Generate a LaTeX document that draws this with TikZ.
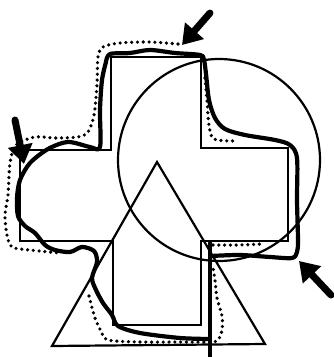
\documentclass[tikz,border=0pt]{standalone}
\usetikzlibrary{arrows.meta}
\begin{document}
\begin{tikzpicture}[x=1pt,y=-1pt,
  thinline/.style={line width=2.6pt, line join=miter},
  figline/.style={line width=2.2pt},
  trace/.style={line width=4.2pt, line cap=round, line join=round},
  dots/.style={line width=3.6pt, line cap=round, dash pattern=on 0pt off 5.8pt},
  bigarrow/.style={line width=7pt, line cap=round, -{Triangle[length=19pt,width=24pt]}}]
\useasboundingbox (0,0) rectangle (334,357);
% cross
\draw[thinline] (111,57) -- (201,57) -- (201,148) -- (288,148) -- (288,241) -- (201,241)
  -- (201,325) -- (113,325) -- (113,241) -- (20,241) -- (20,150) -- (111,150) -- cycle;
% circle
\draw[figline] (219,160) circle[radius=101pt];
% triangle
\draw[figline] (157,162) -- (52,346) -- (265,344) -- cycle;
% thick traced outline
\draw[trace] plot[smooth, tension=0.5] coordinates {
  (106,62) (110,54) (130,53) (150,50) (175,53) (200,55) (204,60)
  (206,74) (209,100) (215,118) (225,129) (245,135) (275,140) (290,145)
  (297,158) (297,200) (298,240) (297,252) (292,258) (270,257) (240,255) (211,256)};
\draw[trace] (210,243) -- (210,357);
\draw[trace] plot[smooth, tension=0.5] coordinates {
  (210,339) (180,338) (140,333) (118,326) (112,315) (103,303) (96,290) (92,278)
  (97,262) (94,251) (82,247) (70,252) (55,250) (45,245) (35,233) (25,226)
  (18,216) (17,198) (20,180) (30,163) (48,149) (68,142) (90,147) (100,147)
  (100,110) (102,80) (106,62)};
% dotted outline
\draw[dots] plot[smooth, tension=0.5] coordinates {
  (178,44) (150,42) (120,43) (103,47) (98,57) (97,85) (94,115) (88,132)
  (78,137) (55,138) (35,137) (16,145) (10,163) (8,195) (5,215) (7,235)
  (12,247) (30,250) (60,253)};
\draw[dots] plot[smooth, tension=0.5] coordinates {
  (89,296) (95,318) (101,331) (108,340) (140,342) (180,342) (210,342)
  (218,340) (222,330) (222,316) (217,298) (215,280) (213,268)};
\draw[dots] plot[smooth, tension=0.5] coordinates {
  (213,245) (240,245) (262,244)};
\draw[dots] plot[smooth, tension=0.5] coordinates {
  (205,78) (207,100) (209,125) (214,139) (237,141)};
% arrows
\coordinate (a1s) at (210,13);
\coordinate (a1e) at (182,45);
\coordinate (a2s) at (15,120);
\coordinate (a2e) at (24,164);
\coordinate (a3s) at (331,295);
\coordinate (a3e) at (299,261);
\draw[bigarrow] (a1s) -- (a1e);
\draw[bigarrow] (a2s) -- (a2e);
\draw[bigarrow] (a3s) -- (a3e);
\end{tikzpicture}
\end{document}
